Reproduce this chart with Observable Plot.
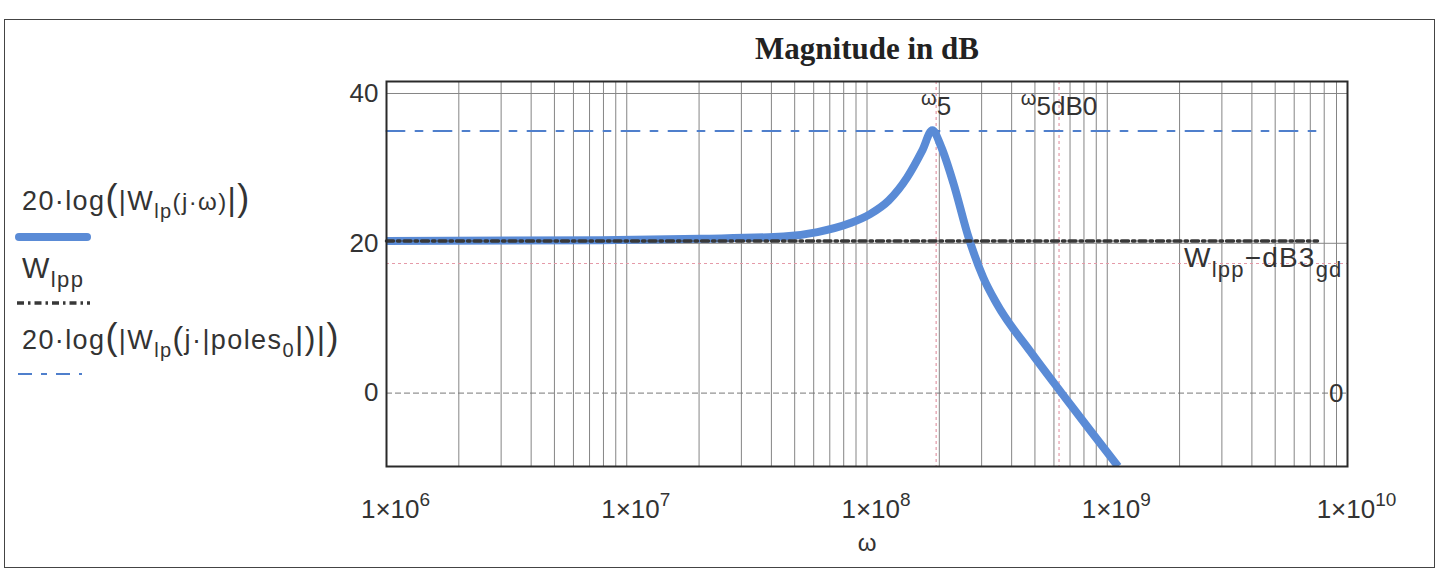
<!DOCTYPE html>
<html>
<head>
<meta charset="utf-8">
<script src="https://cdn.jsdelivr.net/npm/d3@7"></script>
<script src="https://cdn.jsdelivr.net/npm/@observablehq/plot@0.6"></script>
<style>
  body { margin: 0; background: #fff; }
  #wrap { position: relative; width: 1445px; height: 573px; }
  #border { position: absolute; left: 4px; top: 19px; width: 1431px; height: 549px; border: 1.5px solid #444; box-sizing: border-box; pointer-events: none; }
  #wrap svg { position: absolute; left: 0; top: 0; }
</style>
</head>
<body>
<div id="wrap"><div id="border"></div></div>
<script>
// ---- data ----
// blue trace: 20·log(|Wlp(j·ω)|)
const omega = [1e6, 7.8e6, 2.03e7, 4.49e7, 6.22e7, 8.53e7, 1.03e8, 1.23e8, 1.47e8, 1.70e8, 1.87e8, 2.04e8, 2.29e8, 2.64e8, 3.05e8, 3.46e8, 4.80e8, 6.46e8, 8.5e8, 1.11e9];
const magDb = [20.3, 20.4, 20.6, 20.9, 21.5, 22.7, 23.9, 25.7, 28.8, 32.4, 35.1, 32.8, 28.0, 20.9, 15.4, 12.0, 5.5, 0, -5, -9.8];
// horizontal traces (Wlpp and 20·log(|Wlp(j·|poles0|)|)) drawn over the ω range
const hOmega = [1e6, 7.5e9];
const wlppDb = 20.3;
const polesDb = 35.0;
// markers
const dB3Level = 17.3;           // Wlpp − dB3gd
const omega5 = 1.94e8;           // ω5
const omega5dB0 = 6.3e8;         // ω5dB0
// axes
const xTicks = [1e6, 1e7, 1e8, 1e9, 1e10];
const yTicks = [0, 20, 40];
const yGridSolid = [20, 40];
const yDomain = [-9.8, 41.6];
const xDomain = [1e6, 1e10];

const BLUE = "#5a8bd6";
const gridX = [];
for (let d = 6; d < 10; d++) for (let k = 1; k <= 9; k++) gridX.push(k * 10 ** d);
gridX.push(1e10);

const curveData = omega.map((w, i) => ({w, v: magDb[i]}));
const wlppData = hOmega.map(w => ({w, v: wlppDb}));
const polesData = hOmega.map(w => ({w, v: polesDb}));
const vMarkers = [{w: omega5, name: "ω5"}, {w: omega5dB0, name: "ω5dB0"}];

const plot = Plot.plot({
  width: 1445,
  height: 573,
  marginLeft: 386,
  marginRight: 98,
  marginTop: 81,
  marginBottom: 107,
  x: {type: "log", domain: xDomain},
  y: {domain: yDomain},
  style: {fontFamily: "'Liberation Sans', Arial, sans-serif", fontSize: "26px", color: "#333", background: "transparent", overflow: "visible"},
  marks: [
    Plot.ruleX(gridX, {stroke: "#858585", strokeWidth: 1}),
    Plot.ruleY(yGridSolid, {stroke: "#858585", strokeWidth: 1}),
    Plot.ruleY([0], {stroke: "#777", strokeWidth: 1, strokeDasharray: "6,3"}),
    Plot.ruleY([dB3Level], {stroke: "#e59aa8", strokeWidth: 1.2, strokeDasharray: "3,3"}),
    Plot.ruleX([omega5, omega5dB0], {stroke: "#e59aa8", strokeWidth: 1.2, strokeDasharray: "3,3"}),
    Plot.line(polesData, {x: "w", y: "v", stroke: "#4f7fcc", strokeWidth: 2, strokeDasharray: "18,11,7,11"}),
    Plot.line(curveData, {x: "w", y: "v", stroke: BLUE, strokeWidth: 8, curve: "monotone-x", clip: true, strokeLinecap: "butt"}),
    Plot.line(wlppData, {x: "w", y: "v", stroke: "#383838", strokeWidth: 3.5, strokeDasharray: "7,4,2.5,4"}),
    Plot.frame({stroke: "#2a2a2a", strokeWidth: 2}),
    Plot.axisX(xTicks, {tickSize: 0, tickPadding: 33, dx: 9, fontSize: 26, tickFormat: d => `1×10^${Math.round(Math.log10(d))}`, label: null}),
    Plot.axisY(yTicks, {tickSize: 0, tickPadding: 8, fontSize: 26, label: null}),
    Plot.text(["ω"], {frameAnchor: "bottom", dy: 84, fontSize: 24, fill: "#333"}),
    Plot.text(["Magnitude in dB"], {frameAnchor: "top", dy: -45, fontSize: 31, fontWeight: "bold", fontFamily: "'Liberation Serif', 'Times New Roman', serif", fill: "#222"}),
    Plot.text(vMarkers, {x: "w", frameAnchor: "top", text: "name", lineAnchor: "bottom", dy: 33, fontSize: 26, fill: "#333"}),
    Plot.text([{v: dB3Level, name: "Wlpp−dB3gd"}], {y: "v", frameAnchor: "right", text: "name", textAnchor: "end", lineAnchor: "bottom", dx: -5, dy: 3, fontSize: 28, fill: "#333"}),
    Plot.text([{v: 0, name: "0"}], {y: "v", frameAnchor: "right", text: "name", textAnchor: "end", lineAnchor: "bottom", dx: -4, dy: 9, fontSize: 26, fill: "#333"})
  ]
});

document.getElementById("wrap").appendChild(plot);
const svg = d3.select(plot);

function rich(textSel, parts) {
  textSel.text(null);
  parts.forEach(p => {
    const ts = textSel.append("tspan").text(p.t);
    if (p.fs) ts.attr("font-size", p.fs);
    if (p.dy) ts.attr("dy", p.dy);
  });
}

svg.selectAll("text").each(function () {
  const s = d3.select(this);
  const txt = s.text();
  if (/^1×10\^\d+$/.test(txt)) {
    const [base, exp] = txt.split("^");
    rich(s, [{t: base}, {t: exp, fs: 19, dy: -12}]);
  } else if (txt === "ω5" || txt === "ω5dB0") {
    rich(s, [{t: "ω", fs: 20, dy: -10}, {t: txt.slice(1), fs: 26, dy: 10}]);
  } else if (txt === "Wlpp−dB3gd") {
    s.attr("letter-spacing", 1.2);
    rich(s, [{t: "W"}, {t: "lpp", fs: 22, dy: 10}, {t: "−dB3", fs: 28, dy: -10}, {t: "gd", fs: 22, dy: 10}]);
  }
});

// legend (left side)
const lg = svg.append("g")
  .attr("font-family", "'Liberation Sans', Arial, sans-serif")
  .attr("fill", "#333")
  .attr("text-anchor", "start");
function legendText(x, y, parts) {
  const t = lg.append("text").attr("x", x).attr("y", y).attr("font-size", 27).attr("letter-spacing", 1.4).attr("text-anchor", "start");
  rich(t, parts);
}
legendText(22, 210, [
  {t: "20·log"}, {t: "(", fs: 36}, {t: "|W", fs: 27}, {t: "lp", fs: 20, dy: 8}, {t: "(j·ω)", fs: 24, dy: -8}, {t: "|", fs: 32}, {t: ")", fs: 36}
]);
lg.append("line").attr("x1", 19).attr("x2", 87).attr("y1", 237).attr("y2", 237)
  .attr("stroke", BLUE).attr("stroke-width", 8).attr("stroke-linecap", "round");
legendText(22, 278, [{t: "W", fs: 29}, {t: "lpp", fs: 22, dy: 9}]);
lg.append("line").attr("x1", 17).attr("x2", 90).attr("y1", 303).attr("y2", 303)
  .attr("stroke", "#383838").attr("stroke-width", 3.5).attr("stroke-dasharray", "7,4,2.5,4");
legendText(22, 349, [
  {t: "20·log"}, {t: "(", fs: 36}, {t: "|W", fs: 27}, {t: "lp", fs: 20, dy: 8}, {t: "(", fs: 32, dy: -8}, {t: "j·|poles", fs: 27}, {t: "0", fs: 20, dy: 8}, {t: "|", fs: 32, dy: -8}, {t: ")", fs: 32}, {t: "|", fs: 32}, {t: ")", fs: 36}
]);
lg.append("line").attr("x1", 18).attr("x2", 82).attr("y1", 374).attr("y2", 374)
  .attr("stroke", "#4f7fcc").attr("stroke-width", 2).attr("stroke-dasharray", "14,9,6,9");
</script>
</body>
</html>
